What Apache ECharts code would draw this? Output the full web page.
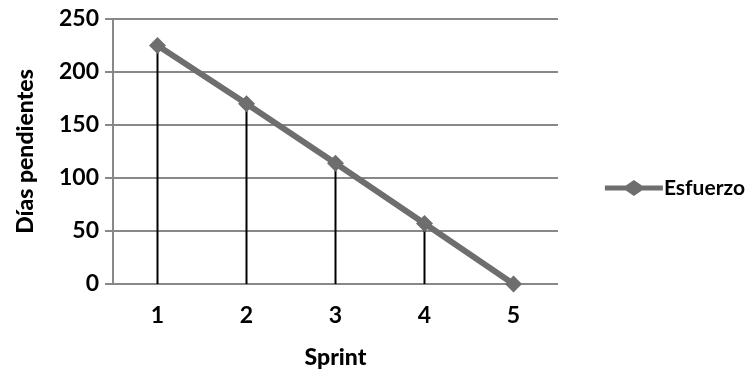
<!DOCTYPE html>
<html><head><meta charset="utf-8">
<script src="https://cdn.jsdelivr.net/npm/echarts@6/dist/echarts.min.js"></script>
<style>html,body{margin:0;padding:0;background:#fff}#c{width:752px;height:376px}</style>
</head><body><div id="c"></div>
<script>
var categories = ['1','2','3','4','5'];
var esfuerzo = [225, 170, 114, 57, 0];
var yTicks = [0, 50, 100, 150, 200, 250];
var seriesName = 'Esfuerzo';
var xTitle = 'Sprint';
var yTitle = 'Días pendientes';

var chart = echarts.init(document.getElementById('c'));
var font = 'Lato';
chart.setOption({
  animation: false,
  grid: {left: 113, right: 194, top: 19, bottom: 92},
  legend: {
    data: [seriesName], right: 2, top: 'middle', orient: 'vertical',
    itemWidth: 58, itemHeight: 16, itemGap: 0,
    textStyle: {fontFamily: font, fontSize: 21, fontWeight: 'bold', color: '#000', padding: [0,0,0,-4]},
    icon: 'path://M0,5.5 L21,5.5 L29,0 L37,5.5 L58,5.5 L58,10.5 L37,10.5 L29,16 L21,10.5 L0,10.5 Z'
  },
  xAxis: {
    type: 'category', data: categories, boundaryGap: true,
    name: xTitle, nameLocation: 'middle', nameGap: 62,
    nameTextStyle: {fontFamily: font, fontSize: 23, fontWeight: 900, color: '#000'},
    axisLine: {show: false}, axisTick: {show: false},
    axisLabel: {fontFamily: font, fontSize: 23, fontWeight: 'bold', color: '#000', margin: 20}
  },
  yAxis: {
    type: 'value', min: yTicks[0], max: yTicks[yTicks.length-1], interval: 50,
    name: yTitle, nameLocation: 'middle', nameGap: 76, nameRotate: 90,
    nameTextStyle: {fontFamily: font, fontSize: 23, fontWeight: 900, color: '#000'},
    axisLine: {show: true, lineStyle: {color: '#888', width: 2}},
    axisTick: {show: true, length: 8, lineStyle: {color: '#888', width: 2}},
    splitLine: {lineStyle: {color: '#888', width: 2}},
    axisLabel: {fontFamily: font, fontSize: 23, fontWeight: 'bold', color: '#000', margin: 14}
  },
  series: [
    {type: 'bar', name: 'drop', data: esfuerzo, barWidth: 2, itemStyle: {color: '#000'}, z: 1, silent: true},
    {type: 'line', name: seriesName, data: esfuerzo, symbol: 'diamond', symbolSize: 17,
     lineStyle: {color: '#6e6e6e', width: 6}, itemStyle: {color: '#6e6e6e'}, z: 3}
  ]
});
</script></body></html>
